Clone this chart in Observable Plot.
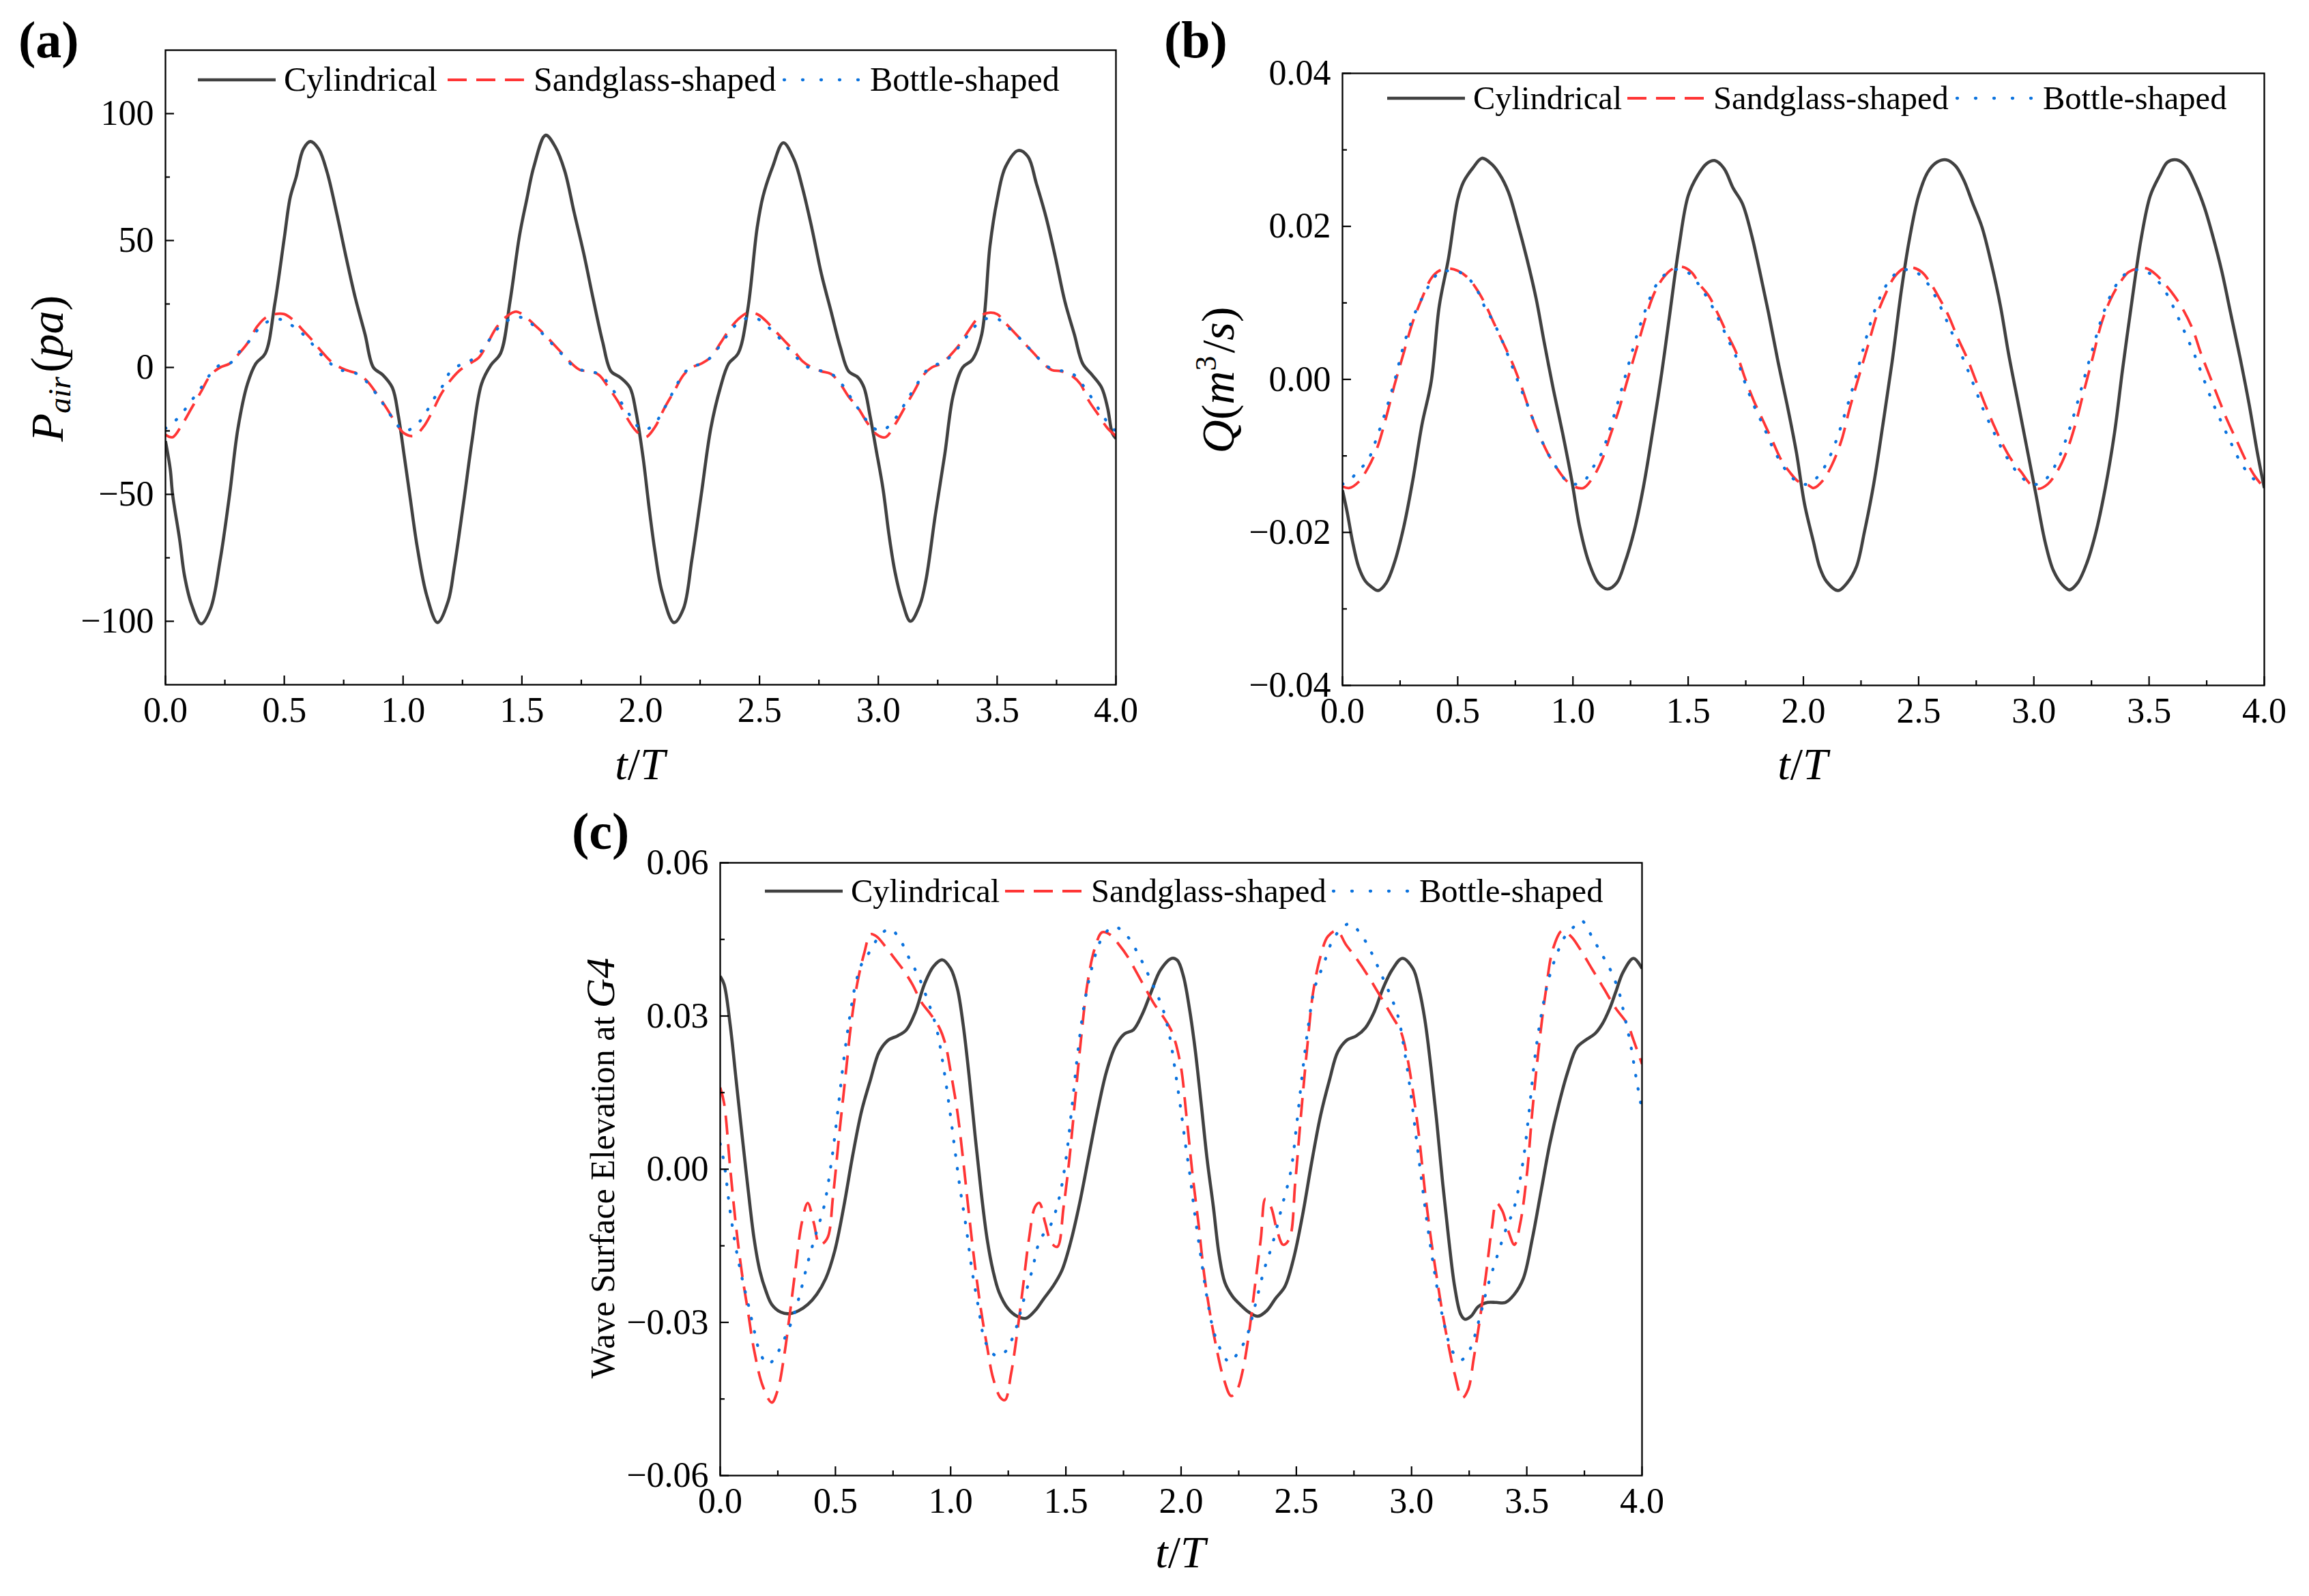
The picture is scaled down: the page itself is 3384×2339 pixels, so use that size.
<!DOCTYPE html>
<html><head><meta charset="utf-8">
<script src="https://cdn.jsdelivr.net/npm/d3@7"></script>
<script src="https://cdn.jsdelivr.net/npm/@observablehq/plot@0.6"></script>
<style>
body{margin:0;background:#fff;}
#root{position:relative;width:3384px;height:2339px;background:#fff;overflow:hidden;}
.panel{position:absolute;}
</style></head><body><div id="root"></div>
<script>
// ---------- tick values ----------
const xMajor = [0,0.5,1,1.5,2,2.5,3,3.5,4];
const xMinor = [0.25,0.75,1.25,1.75,2.25,2.75,3.25,3.75];
const pMajor = [-100,-50,0,50,100];
const pMinor = [-75,-25,25,75];
const qMajor = [-0.04,-0.02,0,0.02,0.04];
const qMinor = [-0.03,-0.01,0.01,0.03];
const etaMajor = [-0.06,-0.03,0,0.03,0.06];
const etaMinor = [-0.045,-0.015,0.015,0.045];
const seriesNames = ["Cylindrical","Sandglass-shaped","Bottle-shaped"];

// ---------- (a) P_air (pa) vs t/T ----------
const cylP = [[0,-29],[0.02,-40],[0.03,-50],[0.06,-68],[0.08,-82],[0.11,-93.5],[0.15,-101],[0.19,-95],[0.23,-76],[0.27,-50],[0.305,-24],[0.345,-6.5],[0.38,1.5],[0.42,5.5],[0.46,25],[0.5,51],[0.525,67],[0.55,75],[0.58,86],[0.61,89],[0.645,86],[0.68,77],[0.72,61],[0.76,43.5],[0.8,27],[0.84,13],[0.875,0],[0.915,-3],[0.955,-8],[0.98,-19],[1.005,-35],[1.03,-51.5],[1.06,-71],[1.1,-90],[1.145,-100.5],[1.19,-92],[1.215,-79],[1.255,-53],[1.29,-29],[1.33,-6.5],[1.37,1],[1.41,5.5],[1.45,26],[1.49,52],[1.52,66],[1.55,79],[1.6,91.5],[1.64,87],[1.68,77.5],[1.72,61],[1.76,45],[1.8,27],[1.84,10],[1.875,-1.5],[1.915,-4],[1.955,-8],[1.98,-17.5],[2.01,-35.5],[2.035,-55],[2.06,-72.5],[2.09,-88.5],[2.14,-100.5],[2.18,-95],[2.215,-76],[2.255,-50],[2.295,-24],[2.335,-8],[2.37,1.5],[2.41,5.5],[2.45,22.5],[2.49,55],[2.515,67.5],[2.555,79],[2.6,88.5],[2.645,82],[2.68,71],[2.72,55],[2.76,37],[2.8,22.5],[2.84,8],[2.875,-1.5],[2.915,-4],[2.94,-8],[2.965,-19],[2.99,-32],[3.02,-48],[3.045,-66],[3.07,-80.5],[3.1,-92],[3.135,-100],[3.175,-93.5],[3.2,-84],[3.24,-58],[3.28,-34],[3.315,-11],[3.355,0],[3.395,3],[3.435,13],[3.47,48],[3.5,66],[3.535,79],[3.59,85.5],[3.63,83],[3.665,72.5],[3.705,59.5],[3.745,43.5],[3.785,26],[3.825,13],[3.86,1.5],[3.9,-3],[3.94,-8],[3.965,-16],[3.985,-26],[4,-28]];
const sandP = [[0,-26.5],[0.03,-27.5],[0.07,-22.5],[0.11,-16],[0.15,-9.5],[0.19,-3],[0.23,0],[0.27,1.5],[0.305,5],[0.345,9.5],[0.385,16],[0.42,19.5],[0.46,21],[0.5,21],[0.54,18.5],[0.58,14.5],[0.62,10.5],[0.655,6.5],[0.695,2.5],[0.735,0],[0.775,-1.5],[0.81,-2.5],[0.85,-5.5],[0.89,-10.5],[0.93,-16],[0.97,-22],[1.005,-26],[1.045,-27],[1.085,-23.5],[1.125,-17],[1.16,-10.5],[1.2,-5],[1.24,-1],[1.28,1.5],[1.32,4],[1.355,9.5],[1.395,16],[1.435,20],[1.475,22],[1.515,20],[1.55,17],[1.59,13.5],[1.63,9.5],[1.67,5.5],[1.71,1.5],[1.745,-1],[1.785,-1.5],[1.825,-3],[1.865,-8],[1.905,-13.5],[1.94,-19.5],[1.98,-25],[2.02,-27.5],[2.06,-23.5],[2.1,-16],[2.14,-9.5],[2.18,-3],[2.215,0],[2.255,1.5],[2.295,4],[2.335,9.5],[2.37,14.5],[2.41,19],[2.45,21.5],[2.49,21],[2.525,18.5],[2.565,14.5],[2.605,10.5],[2.645,6.5],[2.68,2.5],[2.72,0],[2.76,-1.5],[2.8,-2.5],[2.84,-6.5],[2.875,-11.5],[2.915,-16],[2.955,-22],[2.995,-26.5],[3.03,-27.5],[3.07,-22.5],[3.11,-16],[3.15,-9.5],[3.19,-3],[3.225,0],[3.265,1.5],[3.305,5],[3.345,9.5],[3.38,14.5],[3.42,19.5],[3.46,21.5],[3.5,21],[3.535,17.5],[3.575,13.5],[3.615,9.5],[3.655,5.5],[3.695,1.5],[3.73,-1],[3.77,-1.5],[3.81,-3],[3.85,-6.5],[3.885,-13],[3.925,-18.5],[3.965,-24],[4,-27]];
const bottleP = [[0,-24],[0.03,-22],[0.07,-18],[0.11,-13],[0.15,-8],[0.19,-2.5],[0.23,1],[0.27,1.5],[0.305,5.5],[0.345,9.5],[0.385,14.5],[0.42,17.5],[0.46,19],[0.5,18.5],[0.54,16],[0.58,13],[0.62,9],[0.655,5],[0.695,1.5],[0.735,-1],[0.775,-1.5],[0.815,-3],[0.855,-6.5],[0.895,-11.5],[0.935,-17],[0.97,-22],[1.005,-25],[1.045,-23.5],[1.085,-19.5],[1.125,-13],[1.165,-7.5],[1.2,-1.5],[1.24,1],[1.28,2.5],[1.32,5.5],[1.36,10.5],[1.4,15.5],[1.44,18.5],[1.475,20],[1.515,19],[1.555,16],[1.59,13],[1.63,9],[1.67,5],[1.71,1],[1.75,-1],[1.79,-1.5],[1.83,-3],[1.87,-7],[1.905,-12],[1.945,-17.5],[1.985,-23],[2.02,-24.5],[2.06,-22],[2.1,-16],[2.14,-9],[2.18,-2.5],[2.22,0.5],[2.26,1.5],[2.3,4.5],[2.34,9.5],[2.375,14],[2.415,18],[2.455,19.5],[2.495,19],[2.535,16],[2.575,12.5],[2.61,8.5],[2.65,4.5],[2.69,1],[2.73,-1],[2.77,-1.5],[2.81,-3],[2.85,-7],[2.885,-12],[2.925,-17.5],[2.965,-22.5],[3.005,-25],[3.04,-23.5],[3.08,-19],[3.12,-13],[3.16,-7],[3.2,-1.5],[3.24,1],[3.275,2],[3.315,5.5],[3.355,10],[3.395,15],[3.435,18.5],[3.475,19.5],[3.515,18.5],[3.55,15.5],[3.59,12],[3.63,8],[3.67,4],[3.71,0.5],[3.745,-1],[3.785,-1.5],[3.825,-3],[3.865,-7.5],[3.905,-13],[3.945,-19],[3.98,-23.5],[4,-25]];

// ---------- (b) Q (m^3/s) vs t/T ----------
const cylQ = [[0,-0.0145],[0.02,-0.0173],[0.045,-0.0214],[0.07,-0.0245],[0.1,-0.0264],[0.125,-0.0271],[0.155,-0.0276],[0.19,-0.0266],[0.225,-0.024],[0.265,-0.0194],[0.305,-0.0132],[0.345,-0.0059],[0.385,-0.0003],[0.42,0.0096],[0.46,0.0158],[0.5,0.0235],[0.525,0.0258],[0.565,0.0276],[0.605,0.0289],[0.645,0.0282],[0.68,0.0269],[0.72,0.0245],[0.76,0.0204],[0.8,0.0158],[0.84,0.0106],[0.875,0.0049],[0.915,-0.0013],[0.955,-0.007],[0.995,-0.0132],[1.03,-0.0194],[1.07,-0.024],[1.11,-0.0266],[1.15,-0.0274],[1.19,-0.0266],[1.225,-0.024],[1.265,-0.0199],[1.305,-0.0142],[1.345,-0.007],[1.385,0.0008],[1.42,0.0085],[1.46,0.0173],[1.5,0.024],[1.54,0.0266],[1.58,0.0282],[1.615,0.0286],[1.655,0.0276],[1.695,0.025],[1.735,0.023],[1.775,0.0189],[1.81,0.0142],[1.85,0.0085],[1.89,0.0023],[1.93,-0.0034],[1.97,-0.0096],[2.005,-0.0163],[2.045,-0.0214],[2.07,-0.0245],[2.1,-0.0264],[2.15,-0.0276],[2.19,-0.0266],[2.23,-0.0245],[2.265,-0.0199],[2.305,-0.0137],[2.345,-0.0059],[2.385,0.0023],[2.425,0.0116],[2.46,0.0183],[2.5,0.024],[2.54,0.0271],[2.58,0.0284],[2.62,0.0287],[2.66,0.0279],[2.695,0.0261],[2.735,0.023],[2.775,0.0199],[2.815,0.0152],[2.855,0.0096],[2.89,0.0034],[2.93,-0.0028],[2.97,-0.009],[3.01,-0.0152],[3.05,-0.0214],[3.085,-0.025],[3.125,-0.0269],[3.155,-0.0275],[3.19,-0.0266],[3.23,-0.024],[3.27,-0.0199],[3.31,-0.0142],[3.35,-0.007],[3.385,0.0013],[3.425,0.0101],[3.465,0.0183],[3.505,0.024],[3.545,0.0266],[3.58,0.0284],[3.62,0.0287],[3.66,0.0279],[3.7,0.0256],[3.74,0.0225],[3.775,0.0189],[3.815,0.0142],[3.855,0.0085],[3.895,0.0028],[3.935,-0.0034],[3.97,-0.0096],[4,-0.0142]];
const sandQ = [[0,-0.014],[0.03,-0.0142],[0.07,-0.0134],[0.11,-0.0116],[0.15,-0.009],[0.19,-0.0049],[0.225,-0.0008],[0.265,0.0034],[0.305,0.0075],[0.345,0.0106],[0.385,0.0132],[0.42,0.0142],[0.46,0.0145],[0.5,0.0142],[0.54,0.0134],[0.58,0.0119],[0.615,0.0101],[0.655,0.0075],[0.695,0.0049],[0.735,0.0023],[0.775,-0.0008],[0.81,-0.0039],[0.85,-0.007],[0.89,-0.0096],[0.93,-0.0116],[0.97,-0.0132],[1.005,-0.014],[1.045,-0.0142],[1.085,-0.0129],[1.125,-0.0106],[1.16,-0.0075],[1.2,-0.0039],[1.24,0.0003],[1.28,0.0044],[1.32,0.0085],[1.355,0.0114],[1.395,0.0134],[1.435,0.0145],[1.475,0.0147],[1.515,0.014],[1.55,0.0124],[1.59,0.0109],[1.63,0.0085],[1.67,0.0059],[1.71,0.0034],[1.745,0.0003],[1.785,-0.0028],[1.825,-0.0054],[1.865,-0.008],[1.905,-0.0106],[1.94,-0.0121],[1.98,-0.0134],[2.02,-0.0138],[2.045,-0.0142],[2.085,-0.0132],[2.125,-0.0111],[2.165,-0.008],[2.2,-0.0039],[2.24,0.0003],[2.28,0.0044],[2.32,0.0085],[2.36,0.0114],[2.395,0.0134],[2.435,0.0145],[2.475,0.0146],[2.515,0.014],[2.555,0.0124],[2.59,0.0106],[2.63,0.0083],[2.67,0.0054],[2.71,0.0028],[2.75,-0.0003],[2.79,-0.0034],[2.825,-0.0059],[2.865,-0.0085],[2.905,-0.0106],[2.945,-0.0121],[2.985,-0.0137],[3.02,-0.0143],[3.06,-0.0137],[3.1,-0.0121],[3.14,-0.0096],[3.18,-0.0059],[3.215,-0.0018],[3.255,0.0028],[3.295,0.0075],[3.335,0.0106],[3.375,0.0127],[3.41,0.014],[3.45,0.0145],[3.49,0.0145],[3.53,0.0137],[3.57,0.0124],[3.61,0.0109],[3.65,0.009],[3.69,0.0065],[3.725,0.0034],[3.765,0.0003],[3.805,-0.0028],[3.84,-0.0054],[3.88,-0.008],[3.92,-0.0106],[3.96,-0.0127],[4,-0.0142]];
const bottleQ = [[0,-0.0137],[0.03,-0.0132],[0.07,-0.0119],[0.11,-0.0106],[0.15,-0.0075],[0.19,-0.0039],[0.225,-0.0003],[0.265,0.0044],[0.305,0.008],[0.345,0.0106],[0.385,0.0127],[0.42,0.014],[0.46,0.0142],[0.5,0.0141],[0.54,0.0134],[0.58,0.0119],[0.615,0.0096],[0.655,0.0075],[0.695,0.0049],[0.735,0.0018],[0.775,-0.0013],[0.81,-0.0039],[0.85,-0.007],[0.89,-0.0096],[0.93,-0.0116],[0.97,-0.0132],[1.005,-0.0137],[1.045,-0.0134],[1.085,-0.0116],[1.125,-0.0096],[1.16,-0.0065],[1.2,-0.0025],[1.24,0.0018],[1.28,0.006],[1.32,0.0095],[1.355,0.012],[1.395,0.0136],[1.435,0.0143],[1.475,0.0143],[1.515,0.0136],[1.55,0.0122],[1.59,0.0103],[1.63,0.008],[1.67,0.0054],[1.71,0.0028],[1.745,-0.0003],[1.785,-0.0034],[1.825,-0.006],[1.865,-0.0088],[1.905,-0.011],[1.94,-0.0125],[1.98,-0.0135],[2.02,-0.0137],[2.06,-0.0128],[2.1,-0.011],[2.14,-0.0082],[2.18,-0.0045],[2.22,-0.0005],[2.26,0.004],[2.3,0.0082],[2.34,0.0112],[2.38,0.0132],[2.42,0.0142],[2.46,0.0143],[2.5,0.0138],[2.54,0.0125],[2.58,0.0104],[2.62,0.0078],[2.66,0.005],[2.7,0.0022],[2.74,-0.0008],[2.78,-0.0039],[2.82,-0.0065],[2.86,-0.009],[2.9,-0.011],[2.94,-0.0126],[2.98,-0.0135],[3.02,-0.0137],[3.06,-0.0128],[3.1,-0.0108],[3.14,-0.0078],[3.18,-0.004],[3.22,0.0003],[3.26,0.0045],[3.3,0.0085],[3.34,0.0114],[3.38,0.0133],[3.42,0.0142],[3.46,0.0143],[3.5,0.0139],[3.54,0.0128],[3.58,0.011],[3.62,0.0085],[3.66,0.0058],[3.7,0.003],[3.74,-0.0002],[3.78,-0.0033],[3.82,-0.006],[3.86,-0.0086],[3.9,-0.011],[3.94,-0.0126],[3.97,-0.0134],[4,-0.0138]];

// ---------- (c) Wave surface elevation at G4 vs t/T ----------
const cylEta = [[0,0.0378],[0.017,0.0362],[0.043,0.0284],[0.069,0.0175],[0.095,0.0066],[0.12,-0.0035],[0.147,-0.0136],[0.172,-0.0199],[0.198,-0.0238],[0.224,-0.0265],[0.263,-0.028],[0.302,-0.0283],[0.341,-0.0277],[0.38,-0.0265],[0.419,-0.0245],[0.458,-0.0214],[0.497,-0.016],[0.536,-0.0074],[0.575,0.0027],[0.613,0.0113],[0.652,0.0175],[0.69,0.023],[0.73,0.0253],[0.769,0.0261],[0.808,0.0273],[0.847,0.0308],[0.886,0.0362],[0.925,0.0397],[0.964,0.041],[1.0,0.0393],[1.029,0.0354],[1.054,0.0284],[1.08,0.0183],[1.106,0.0066],[1.132,-0.0043],[1.158,-0.0136],[1.184,-0.0199],[1.21,-0.0241],[1.249,-0.0273],[1.288,-0.0288],[1.327,-0.0292],[1.366,-0.0277],[1.405,-0.0253],[1.443,-0.023],[1.482,-0.0199],[1.52,-0.0144],[1.56,-0.0066],[1.6,0.0027],[1.637,0.0113],[1.676,0.0191],[1.715,0.0241],[1.754,0.0265],[1.793,0.0273],[1.832,0.0304],[1.87,0.0347],[1.91,0.039],[1.96,0.0413],[1.984,0.0409],[2.01,0.0378],[2.036,0.0315],[2.06,0.0238],[2.087,0.0129],[2.113,0.0019],[2.14,-0.0074],[2.165,-0.0168],[2.19,-0.0222],[2.223,-0.0249],[2.256,-0.0265],[2.294,-0.028],[2.333,-0.0288],[2.372,-0.0277],[2.41,-0.0253],[2.45,-0.023],[2.488,-0.0175],[2.527,-0.009],[2.566,0.0012],[2.605,0.0105],[2.644,0.0175],[2.68,0.023],[2.72,0.0253],[2.76,0.0261],[2.8,0.0277],[2.838,0.0308],[2.876,0.0354],[2.915,0.039],[2.96,0.0413],[3.006,0.0393],[3.032,0.0354],[3.058,0.0292],[3.084,0.0199],[3.11,0.009],[3.135,-0.0027],[3.161,-0.0136],[3.187,-0.023],[3.213,-0.0284],[3.232,-0.0294],[3.258,-0.0288],[3.29,-0.0269],[3.33,-0.0261],[3.368,-0.0261],[3.407,-0.0261],[3.446,-0.0245],[3.485,-0.0214],[3.524,-0.0136],[3.562,-0.0043],[3.6,0.005],[3.64,0.0129],[3.678,0.0191],[3.717,0.0238],[3.756,0.0253],[3.795,0.0265],[3.827,0.0284],[3.86,0.0315],[3.886,0.0347],[3.918,0.0386],[3.963,0.0413],[4,0.0393]];
const sandEta = [[0,0.016],[0.017,0.0129],[0.043,0.0004],[0.069,-0.0113],[0.095,-0.0206],[0.12,-0.0277],[0.147,-0.0354],[0.185,-0.0425],[0.224,-0.0457],[0.25,-0.0432],[0.276,-0.037],[0.302,-0.0284],[0.328,-0.0191],[0.354,-0.0105],[0.38,-0.0066],[0.406,-0.0105],[0.432,-0.0148],[0.464,-0.0136],[0.49,-0.0051],[0.516,0.0066],[0.542,0.0175],[0.568,0.0284],[0.594,0.0362],[0.626,0.0425],[0.652,0.046],[0.678,0.0456],[0.717,0.0436],[0.756,0.0413],[0.795,0.039],[0.834,0.0362],[0.873,0.0327],[0.912,0.0304],[0.951,0.0277],[0.977,0.0245],[1.0,0.0191],[1.029,0.0113],[1.054,0.0019],[1.08,-0.009],[1.106,-0.0191],[1.132,-0.0277],[1.158,-0.0347],[1.184,-0.0409],[1.217,-0.0448],[1.236,-0.0452],[1.262,-0.0401],[1.288,-0.0323],[1.314,-0.023],[1.34,-0.0136],[1.366,-0.0074],[1.385,-0.0066],[1.41,-0.0105],[1.437,-0.0144],[1.463,-0.0152],[1.49,-0.0074],[1.515,0.0019],[1.54,0.0136],[1.567,0.0261],[1.593,0.0362],[1.625,0.0432],[1.657,0.0464],[1.69,0.046],[1.73,0.044],[1.767,0.0417],[1.806,0.0386],[1.845,0.0354],[1.884,0.0323],[1.92,0.03],[1.96,0.0269],[1.997,0.0206],[2.023,0.0105],[2.05,-0.0012],[2.075,-0.0105],[2.1,-0.0206],[2.126,-0.0284],[2.152,-0.0347],[2.184,-0.0409],[2.217,-0.0444],[2.243,-0.0432],[2.268,-0.0393],[2.294,-0.0323],[2.32,-0.023],[2.346,-0.0136],[2.366,-0.0058],[2.39,-0.0074],[2.417,-0.0121],[2.443,-0.0148],[2.47,-0.0136],[2.495,-0.0027],[2.52,0.0105],[2.547,0.0238],[2.573,0.0347],[2.605,0.0417],[2.637,0.0456],[2.676,0.0467],[2.715,0.044],[2.76,0.0413],[2.812,0.0378],[2.864,0.0339],[2.915,0.03],[2.954,0.0269],[2.98,0.0222],[3.006,0.0152],[3.032,0.0066],[3.058,-0.0043],[3.084,-0.0136],[3.11,-0.0214],[3.135,-0.0284],[3.161,-0.0347],[3.187,-0.0401],[3.22,-0.0448],[3.245,-0.0432],[3.27,-0.037],[3.297,-0.0292],[3.323,-0.0206],[3.349,-0.0113],[3.368,-0.0066],[3.394,-0.0082],[3.42,-0.0121],[3.446,-0.0148],[3.472,-0.0105],[3.5,-0.0012],[3.524,0.0113],[3.55,0.023],[3.582,0.0347],[3.614,0.0432],[3.653,0.0467],[3.692,0.0456],[3.73,0.0432],[3.782,0.0393],[3.834,0.0354],[3.886,0.0315],[3.937,0.0284],[3.963,0.0253],[4,0.0206]];
const bottleEta = [[0,0.005],[0.017,0.0012],[0.043,-0.0082],[0.069,-0.0156],[0.095,-0.0214],[0.12,-0.0261],[0.147,-0.0315],[0.172,-0.0358],[0.205,-0.0382],[0.237,-0.037],[0.263,-0.0347],[0.302,-0.0308],[0.341,-0.0253],[0.38,-0.0183],[0.419,-0.0121],[0.45,-0.0074],[0.484,0.0019],[0.51,0.0113],[0.536,0.0214],[0.56,0.0292],[0.587,0.0362],[0.613,0.0401],[0.652,0.0428],[0.69,0.0456],[0.737,0.0471],[0.782,0.0448],[0.82,0.0413],[0.86,0.0378],[0.9,0.0331],[0.938,0.0277],[0.964,0.0214],[0.99,0.0136],[1.015,0.005],[1.04,-0.0035],[1.067,-0.0113],[1.093,-0.0199],[1.12,-0.0269],[1.145,-0.0331],[1.17,-0.0354],[1.2,-0.0366],[1.236,-0.0358],[1.275,-0.0323],[1.314,-0.0261],[1.353,-0.0199],[1.39,-0.0136],[1.43,-0.0113],[1.47,-0.0058],[1.5,0.0019],[1.528,0.0129],[1.554,0.0238],[1.58,0.0323],[1.612,0.0393],[1.651,0.0448],[1.69,0.0471],[1.715,0.0475],[1.767,0.0456],[1.806,0.0428],[1.845,0.0393],[1.884,0.0354],[1.92,0.0315],[1.95,0.0261],[1.975,0.0191],[2.0,0.0113],[2.02,0.0045],[2.036,-0.0004],[2.06,-0.009],[2.087,-0.0175],[2.113,-0.0253],[2.14,-0.0315],[2.172,-0.0354],[2.21,-0.0378],[2.243,-0.0362],[2.282,-0.0331],[2.32,-0.0269],[2.359,-0.0199],[2.398,-0.0144],[2.437,-0.0074],[2.476,-0.0004],[2.5,0.0082],[2.527,0.0191],[2.553,0.0284],[2.579,0.0354],[2.618,0.0401],[2.657,0.0448],[2.695,0.0471],[2.734,0.0481],[2.786,0.0456],[2.825,0.0425],[2.864,0.0386],[2.902,0.0347],[2.941,0.03],[2.967,0.0238],[2.993,0.016],[3.019,0.0066],[3.045,-0.0027],[3.07,-0.0113],[3.096,-0.0191],[3.122,-0.0261],[3.148,-0.0315],[3.174,-0.0354],[3.213,-0.0374],[3.252,-0.0354],[3.29,-0.03],[3.33,-0.023],[3.368,-0.0175],[3.407,-0.0121],[3.446,-0.0074],[3.485,0.0019],[3.51,0.0113],[3.536,0.0222],[3.562,0.03],[3.594,0.037],[3.627,0.0417],[3.666,0.0456],[3.705,0.0475],[3.737,0.0487],[3.782,0.0456],[3.82,0.0425],[3.86,0.0393],[3.9,0.0347],[3.924,0.03],[3.95,0.0245],[3.976,0.0175],[4,0.0115]];

// ---------- styling ----------
const FONT = "'Liberation Serif', 'Times New Roman', serif";
const lineStyles = [
  {stroke:"#414141", strokeWidth:4.6, strokeDasharray:null, strokeLinecap:"butt"},
  {stroke:"#ff3535", strokeWidth:3.8, strokeDasharray:"28,14", strokeLinecap:"butt"},
  {stroke:"#0a72de", strokeWidth:4.3, strokeDasharray:"1,19", strokeLinecap:"round"}
];
const root = document.getElementById("root");

function makePanel(cfg) {
  const marks = [];
  cfg.series.forEach((s, i) => {
    const st = lineStyles[i];
    const o = {x: d => d[0], y: d => d[1], stroke: st.stroke, strokeWidth: st.strokeWidth,
      strokeLinecap: st.strokeLinecap, curve: "catmull-rom", clip: true};
    if (st.strokeDasharray) o.strokeDasharray = st.strokeDasharray;
    marks.push(Plot.line(s, o));
  });
  marks.push(Plot.frame({stroke: "#000", strokeWidth: 2.3}));
  marks.push(Plot.axisX(xMinor, {tickSize: -7, fill: "none", strokeWidth: 2.2}));
  marks.push(Plot.axisX(xMajor, {tickSize: -13, fill: "none", strokeWidth: 2.2}));
  marks.push(Plot.axisX(xMajor, {tickSize: 0, tickPadding: 18, tickFormat: d3.format(".1f"), label: null, fill: "#000"}));
  marks.push(Plot.axisY(cfg.yMinor, {tickSize: -7, fill: "none", strokeWidth: 2.2}));
  marks.push(Plot.axisY(cfg.yMajor, {tickSize: -13, fill: "none", strokeWidth: 2.2}));
  marks.push(Plot.axisY(cfg.yMajor, {tickSize: 0, tickPadding: 17, tickFormat: cfg.fmt, label: null, fill: "#000"}));
  const svg = Plot.plot({
    width: cfg.w, height: cfg.h,
    marginLeft: cfg.ml, marginTop: cfg.mt, marginRight: cfg.mr, marginBottom: cfg.mb,
    x: {domain: [0, 4]}, y: {domain: cfg.yDomain},
    style: {fontFamily: FONT, fontSize: "52px", color: "#000", background: "transparent", overflow: "visible"},
    marks
  });
  const div = document.createElement("div");
  div.className = "panel";
  div.style.left = cfg.left + "px"; div.style.top = cfg.top + "px";
  div.style.width = cfg.w + "px"; div.style.height = cfg.h + "px";
  svg.style.maxWidth = "none";
  div.appendChild(svg);
  root.appendChild(div);
}

makePanel({series: [cylP, sandP, bottleP], yDomain: [-125, 125], yMajor: pMajor, yMinor: pMinor,
  fmt: d3.format("d"), left: 0, top: 0, w: 1700, h: 1085, ml: 242, mt: 73, mr: 65, mb: 82});
makePanel({series: [cylQ, sandQ, bottleQ], yDomain: [-0.04, 0.04], yMajor: qMajor, yMinor: qMinor,
  fmt: d3.format(".2f"), left: 1700, top: 0, w: 1684, h: 1085, ml: 267, mt: 107, mr: 66, mb: 81});
makePanel({series: [cylEta, sandEta, bottleEta], yDomain: [-0.06, 0.06], yMajor: etaMajor, yMinor: etaMinor,
  fmt: d3.format(".2f"), left: 820, top: 1170, w: 1650, h: 1080, ml: 235, mt: 94, mr: 64, mb: 88});

// ---------- overlay: panel tags, axis titles, legends ----------
const ov = d3.select(root).append("svg")
  .attr("width", 3384).attr("height", 2339)
  .style("position", "absolute").style("left", "0px").style("top", "0px")
  .style("font-family", FONT).attr("fill", "#000");

[["(a)", 27, 84], ["(b)", 1706, 84], ["(c)", 838, 1244]].forEach(([s, x, y]) =>
  ov.append("text").attr("x", x).attr("y", y).attr("font-size", 76).attr("font-weight", "bold").text(s));

// x titles t/T
[[938, 1142], [2642, 1142], [1730, 2297]].forEach(([x, y]) => {
  const t = ov.append("text").attr("x", x).attr("y", y).attr("font-size", 66).attr("text-anchor", "middle");
  t.append("tspan").attr("font-style", "italic").text("t");
  t.append("tspan").text("/");
  t.append("tspan").attr("font-style", "italic").text("T");
});

// y title (a)
{
  const t = ov.append("text").attr("transform", "translate(92,540) rotate(-90)")
    .attr("text-anchor", "middle").attr("font-size", 68);
  t.append("tspan").attr("font-style", "italic").text("P");
  t.append("tspan").attr("font-style", "italic").attr("font-size", 46).attr("dy", 11).text("air");
  t.append("tspan").attr("dy", -11).attr("dx", 6).text("(");
  t.append("tspan").attr("font-style", "italic").text("pa");
  t.append("tspan").text(")");
}
// y title (b)
{
  const t = ov.append("text").attr("transform", "translate(1808,557) rotate(-90)")
    .attr("text-anchor", "middle").attr("font-size", 68);
  t.append("tspan").attr("font-style", "italic").text("Q");
  t.append("tspan").text("(");
  t.append("tspan").attr("font-style", "italic").text("m");
  t.append("tspan").attr("font-size", 44).attr("dy", -26).text("3");
  t.append("tspan").attr("dy", 26).attr("dx", 4).text("/");
  t.append("tspan").attr("font-style", "italic").text("s");
  t.append("tspan").text(")");
}
// y title (c)
{
  const t = ov.append("text").attr("transform", "translate(900,1712) rotate(-90)")
    .attr("text-anchor", "middle").attr("font-size", 50);
  t.append("tspan").text("Wave Surface Elevation at ");
  t.append("tspan").attr("font-style", "italic").attr("font-size", 60).text("G4");
}

// legends
const legends = [
  {y: 117, starts: [290, 656, 1149], fs: 50},
  {y: 144, starts: [2033, 2385, 2868], fs: 48.5},
  {y: 1306, starts: [1121, 1473, 1954], fs: 48.5}
];
const legendDash = [null, "28,14", "1,26"];
legends.forEach(L => {
  L.starts.forEach((x0, i) => {
    const st = lineStyles[i];
    const ln = ov.append("line").attr("x1", x0).attr("x2", x0 + 114).attr("y1", L.y).attr("y2", L.y)
      .attr("stroke", st.stroke).attr("stroke-width", st.strokeWidth).attr("stroke-linecap", st.strokeLinecap);
    if (legendDash[i]) ln.attr("stroke-dasharray", legendDash[i]);
    ov.append("text").attr("x", x0 + 126).attr("y", L.y + 16).attr("font-size", L.fs).text(seriesNames[i]);
  });
});
</script></body></html>
